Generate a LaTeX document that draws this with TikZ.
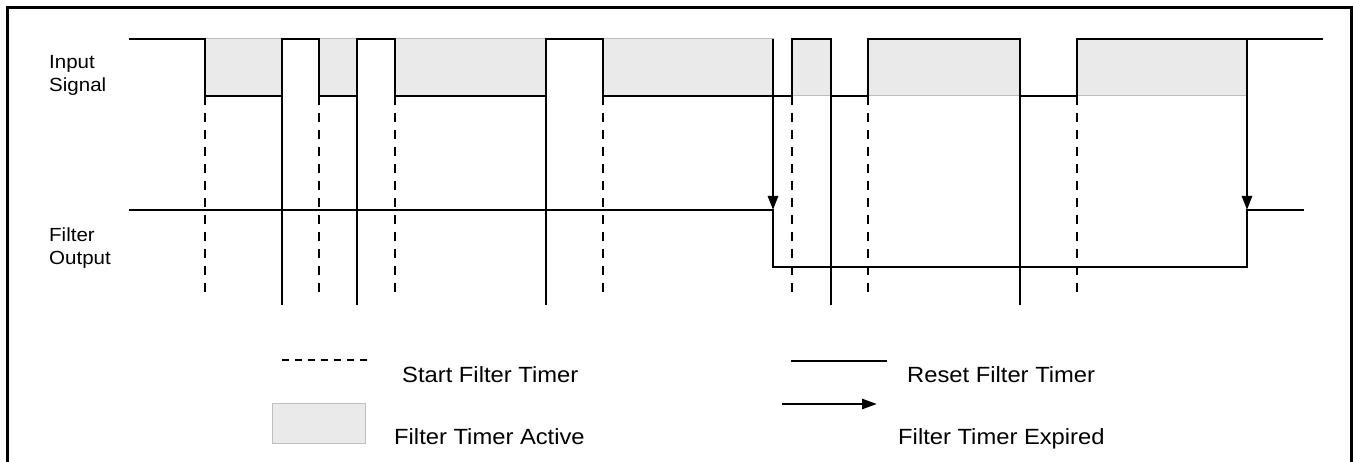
\documentclass[tikz,border=0pt]{standalone}
\usepackage{fontspec}
\setmainfont{Liberation Sans}[FakeStretch=1.08]
\usetikzlibrary{arrows.meta}
\definecolor{shadefill}{RGB}{234,234,234}
\definecolor{shadeedge}{RGB}{190,190,190}
\tikzset{
  frame/.style={line width=3pt, line cap=rect},
  sig/.style={line width=1.8pt, line join=miter},
  shadebox/.style={fill=shadefill, draw=shadeedge, line width=1pt},
  startline/.style={line width=1.8pt, dash pattern=on 9pt off 8pt},
  resetline/.style={line width=1.4pt},
  expired/.style={line width=2.6pt, -{Triangle[length=14pt,width=10pt]}},
  lbl/.style={inner sep=0pt, anchor=base west, font=\fontsize{19}{22}\selectfont},
  legtext/.style={inner sep=0pt, anchor=base west, font=\fontsize{22}{26}\selectfont},
}
\begin{document}
\begin{tikzpicture}[x=1pt,y=-1pt]
\useasboundingbox (0,0) rectangle (1353,462);
% frame (open at the bottom)
\draw[frame] (7.5,462) -- (7.5,7.5) -- (1351,7.5) -- (1351,462);

% filter-timer-active shading
\foreach \a/\b in {205/282,319/357,395/546,603/773,792/831,868/1020,1077/1247}
  \draw[shadebox] (\a,39) rectangle (\b,96);

% start filter timer (dashed)
\foreach \x in {205,319,395,603,792,868,1077}
  \draw[startline] (\x,96) -- (\x,298);

% reset filter timer (solid)
\foreach \x in {282,357,546,831,1020}
  \draw[resetline] (\x,39) -- (\x,305);

% input signal
\draw[sig] (129,39) -- (205,39) -- (205,96) -- (282,96) -- (282,39) -- (319,39)
  -- (319,96) -- (357,96) -- (357,39) -- (395,39) -- (395,96) -- (546,96)
  -- (546,39) -- (603,39) -- (603,96) -- (792,96) -- (792,39) -- (831,39)
  -- (831,96) -- (868,96) -- (868,39) -- (1020,39) -- (1020,96) -- (1077,96)
  -- (1077,39) -- (1323,39);

% filter output
\draw[sig] (129,210) -- (773,210) -- (773,267) -- (1247,267) -- (1247,210) -- (1304,210);

% filter timer expired arrows
\coordinate (e1s) at (773,39);  \coordinate (e1t) at (773,210);
\coordinate (e2s) at (1247,39); \coordinate (e2t) at (1247,210);
\draw[expired] (e1s) -- (e1t);
\draw[expired] (e2s) -- (e2t);

% labels
\node[lbl] (in1) at (49,69) {Input};
\node[lbl] (in2) at (49,92) {Signal};
\node[lbl] (out1) at (49,242) {Filter};
\node[lbl] (out2) at (49,264.5) {Output};

% legend
\coordinate (l1a) at (282,360); \coordinate (l1b) at (373,360);
\draw[line width=1.6pt, dash pattern=on 7pt off 6pt] (l1a) -- (l1b);
\node[legtext] (t1) at (402,383) {Start Filter Timer};

\draw[shadebox] (272,404) rectangle (365,443);
\node[legtext] (t2) at (394,444) {Filter Timer Active};

\coordinate (l3a) at (791,361); \coordinate (l3b) at (887,361);
\draw[resetline] (l3a) -- (l3b);
\node[legtext] (t3) at (907,383) {Reset Filter Timer};

\coordinate (l4a) at (782,404); \coordinate (l4b) at (877,404);
\draw[line width=2.6pt, -{Triangle[length=15pt,width=10pt]}] (l4a) -- (l4b);
\node[legtext] (t4) at (898,444) {Filter Timer Expired};
\end{tikzpicture}
\end{document}
